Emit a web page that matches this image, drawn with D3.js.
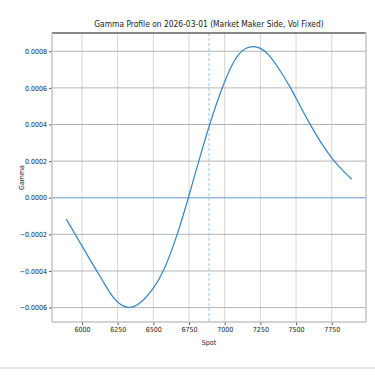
<!DOCTYPE html>
<html>
<head>
<meta charset="utf-8">
<script src="https://cdn.jsdelivr.net/npm/d3@7"></script>
<style>
  body { margin: 0; background: #fff; }
  text { font-family: "Liberation Sans Narrow", "DejaVu Sans Condensed", "Arial Narrow", sans-serif; fill: #222; }
</style>
</head>
<body>
<script>
'use strict';

// spot levels and market-maker gamma
const spots = [5890, 5950, 6000, 6050, 6100, 6150, 6200, 6250, 6322, 6400, 6500, 6576,
  6670, 6746, 6818, 6893, 6980, 7050, 7100, 7150, 7200, 7250, 7300, 7375, 7462, 7500,
  7597, 7680, 7762, 7830, 7890];
const gammas = [-0.000117, -0.000197, -0.000263, -0.000330, -0.000396, -0.000460, -0.000526,
  -0.000576, -0.000607, -0.000588, -0.000500, -0.000400,
  -0.000200, 0.000000, 0.000200, 0.000400, 0.000600, 0.000728, 0.000790, 0.000820, 0.000828,
  0.000819, 0.000792, 0.000713, 0.000600, 0.000544,
  0.000400, 0.000293, 0.000203, 0.000146, 0.000101];
const spotNow = 6890;
const xTicks = [6000, 6250, 6500, 6750, 7000, 7250, 7500, 7750];
const yTicks = [-0.0006, -0.0004, -0.0002, 0, 0.0002, 0.0004, 0.0006, 0.0008];

(function () {

  const W = 375, H = 375;
  const mLeft = 52, mRight = 366, mTop = 33, mBottom = 322;

  const svg = d3.select('body').append('svg')
    .attr('width', W)
    .attr('height', H);

  // matplotlib style 5% margins
  const xLo = d3.min(spots), xHi = d3.max(spots);
  const yLo = d3.min(gammas), yHi = d3.max(gammas);
  const xPad = (xHi - xLo) * 0.05, yPad = (yHi - yLo) * 0.05;

  const x = d3.scaleLinear().domain([xLo - xPad, xHi + xPad]).range([mLeft, mRight]);
  const y = d3.scaleLinear().domain([yLo - yPad, yHi + yPad]).range([mBottom, mTop]);

  // grid
  svg.append('g').selectAll('line')
    .data(xTicks).enter().append('line')
    .attr('x1', d => x(d)).attr('x2', d => x(d))
    .attr('y1', mTop).attr('y2', mBottom)
    .attr('stroke', '#d6d6d6').attr('stroke-width', 1);

  svg.append('g').selectAll('line')
    .data(yTicks).enter().append('line')
    .attr('x1', mLeft).attr('x2', mRight)
    .attr('y1', d => y(d)).attr('y2', d => y(d))
    .attr('stroke', '#b4b4b4').attr('stroke-width', 1);

  // zero line and current spot
  svg.append('line')
    .attr('x1', mLeft).attr('x2', mRight)
    .attr('y1', y(0)).attr('y2', y(0))
    .attr('stroke', '#7fb1df').attr('stroke-width', 1.2);

  svg.append('line')
    .attr('x1', x(spotNow)).attr('x2', x(spotNow))
    .attr('y1', mTop).attr('y2', mBottom)
    .attr('stroke', '#a9cbe9').attr('stroke-width', 1.2)
    .attr('stroke-dasharray', '3,2');

  // gamma curve
  const pts = spots.map((s, i) => [s, gammas[i]]);
  svg.append('path')
    .datum(pts)
    .attr('fill', 'none')
    .attr('stroke', '#3484c6')
    .attr('stroke-width', 1.2)
    .attr('d', d3.line().x(d => x(d[0])).y(d => y(d[1])).curve(d3.curveBasis));

  // axes
  const fmt = d => d3.format('.4f')(d).replace('-', '\u2212');
  const yAxis = svg.append('g')
    .attr('transform', `translate(${mLeft},0)`)
    .call(d3.axisLeft(y).tickValues(yTicks).tickSize(3).tickPadding(2).tickFormat(fmt));
  const xAxis = svg.append('g')
    .attr('transform', `translate(0,${mBottom})`)
    .call(d3.axisBottom(x).tickValues(xTicks).tickSize(3).tickPadding(2).tickFormat(d3.format('d')));

  [yAxis, xAxis].forEach(a => {
    a.select('.domain').remove();
    a.selectAll('.tick line').attr('stroke', '#555');
    a.selectAll('.tick text').style('font-size', '7px').style('fill', '#222');
  });

  // spines
  svg.append('line').attr('x1', mLeft).attr('x2', mRight).attr('y1', mTop).attr('y2', mTop)
    .attr('stroke', '#111').attr('stroke-width', 1);
  svg.append('line').attr('x1', mLeft).attr('x2', mLeft).attr('y1', mTop).attr('y2', mBottom)
    .attr('stroke', '#c4c4c4').attr('stroke-width', 1.5);
  svg.append('line').attr('x1', mRight).attr('x2', mRight).attr('y1', mTop).attr('y2', mBottom)
    .attr('stroke', '#c4c4c4').attr('stroke-width', 1.5);
  svg.append('line').attr('x1', mLeft).attr('x2', mRight).attr('y1', mBottom).attr('y2', mBottom)
    .attr('stroke', '#c4c4c4').attr('stroke-width', 1.5);

  // labels
  svg.append('text')
    .attr('x', (mLeft + mRight) / 2).attr('y', 27)
    .attr('text-anchor', 'middle')
    .style('font-size', '8.4px')
    .text('Gamma Profile on 2026-03-01 (Market Maker Side, Vol Fixed)');

  svg.append('text')
    .attr('x', (mLeft + mRight) / 2).attr('y', 345)
    .attr('text-anchor', 'middle')
    .style('font-size', '7px')
    .text('Spot');

  svg.append('text')
    .attr('transform', `translate(24,${(mTop + mBottom) / 2})rotate(-90)`)
    .attr('text-anchor', 'middle')
    .style('font-size', '7px')
    .text('Gamma');

  // bottom separator
  svg.append('line')
    .attr('x1', 0).attr('x2', W).attr('y1', 368).attr('y2', 368)
    .attr('stroke', '#e2e2e2').attr('stroke-width', 1.5);

})();
</script>
</body>
</html>
